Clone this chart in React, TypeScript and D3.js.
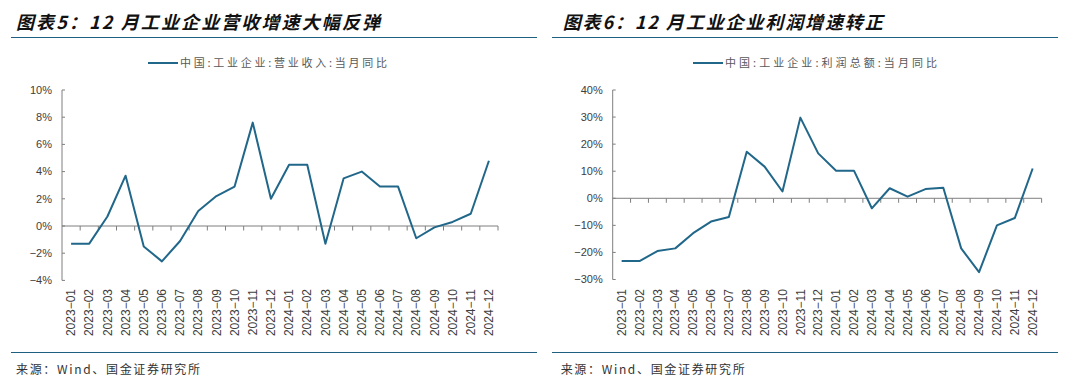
import React from "react";
import * as d3 from "d3";

const months = [
  "2023-01","2023-02","2023-03","2023-04","2023-05","2023-06","2023-07","2023-08","2023-09","2023-10","2023-11","2023-12",
  "2024-01","2024-02","2024-03","2024-04","2024-05","2024-06","2024-07","2024-08","2024-09","2024-10","2024-11","2024-12",
];
const revenueYoY = [-1.3,-1.3,0.7,3.7,-1.5,-2.6,-1.1,1.1,2.2,2.9,7.6,2.0,4.5,4.5,-1.3,3.5,4.0,2.9,2.9,-0.9,-0.1,0.3,0.9,4.8];
const profitYoY = [-23.2,-23.2,-19.5,-18.5,-12.9,-8.6,-6.9,17.2,11.7,2.5,29.8,16.6,10.2,10.2,-3.7,3.7,0.6,3.4,3.9,-18.5,-27.3,-10.0,-7.3,11.0];
const revenueTicks = [-4,-2,0,2,4,6,8,10];
const profitTicks = [-30,-20,-10,0,10,20,30,40];

const LINE = "#21678a";
const AXIS = "#7f7f7f";
const TXT = "#404040";
const CJK = "'Noto Sans CJK SC', sans-serif";
const LAT = "'Liberation Sans', Arial, sans-serif";

type PanelProps = {
  ox: number; title: string; titleLen: number; legend: string; legendX: number; legendLen: number;
  axisX: number; axisEnd: number; yTop: number; yBot: number; domain: [number, number];
  ticks: number[]; values: number[]; sourceX: number; ruleX1: number; ruleX2: number;
};

function Panel(p: PanelProps) {
  const x = d3.scaleBand<string>().domain(months).range([p.axisX, p.axisEnd]).paddingInner(0).paddingOuter(0);
  const y = d3.scaleLinear().domain(p.domain).range([p.yBot, p.yTop]);
  const line = d3.line<number>().x((_, i) => (x(months[i]) as number) + x.bandwidth() / 2).y((v) => y(v));
  const y0 = y(0);
  const fmt = (v: number) => (v < 0 ? "\u2212" + Math.abs(v) : String(v)) + "%";
  return (
    <g>
      <text x={p.ox} y={29} fontFamily={CJK} fontSize={18} fontWeight={700} fontStyle="italic" fill="#111"
        textLength={p.titleLen} lengthAdjust="spacing">{p.title}</text>
      <line x1={p.ruleX1} x2={p.ruleX2} y1={37.5} y2={37.5} stroke="#1f5f80" strokeWidth={1.2} />
      <line x1={p.legendX} x2={p.legendX + 30} y1={63} y2={63} stroke={LINE} strokeWidth={2} />
      <text x={p.legendX + 32} y={67} fontFamily={CJK} fontSize={11} fill="#595959"
        textLength={p.legendLen} lengthAdjust="spacing">{p.legend}</text>
      <line x1={p.axisX} x2={p.axisX} y1={p.yTop} y2={p.yBot} stroke={AXIS} strokeWidth={1} />
      {p.ticks.map((t) => (
        <g key={t}>
          <line x1={p.axisX} x2={p.axisX + 3} y1={y(t)} y2={y(t)} stroke={AXIS} />
          <text x={p.axisX - 10} y={y(t)} dy="0.35em" textAnchor="end" fontFamily={LAT} fontSize={11} fill={TXT}>{fmt(t)}</text>
        </g>
      ))}
      <line x1={p.axisX} x2={p.axisEnd} y1={y0} y2={y0} stroke={AXIS} strokeWidth={1} />
      {months.map((m) => (
        <line key={"t" + m} x1={(x(m) as number) + x.bandwidth()} x2={(x(m) as number) + x.bandwidth()} y1={y0} y2={y0 + 4.5} stroke={AXIS} />
      ))}
      {months.map((m) => {
        const cx = (x(m) as number) + x.bandwidth() / 2;
        return (
          <text key={m} transform={`translate(${cx},289) rotate(-90)`} dy="0.35em" textAnchor="end" fontFamily={LAT} fontSize={12} fill={TXT}>
            {m.replace("-", "\u2212")}
          </text>
        );
      })}
      <path d={line(p.values) || ""} fill="none" stroke={LINE} strokeWidth={2} strokeLinejoin="round" />
      <line x1={p.ruleX1} x2={p.ruleX2} y1={352.5} y2={352.5} stroke="#1f5f80" strokeWidth={1.2} />
      <text x={p.sourceX} y={374} fontFamily={CJK} fontSize={12} fill="#333" textLength={184} lengthAdjust="spacing">来源：Wind、国金证券研究所</text>
    </g>
  );
}

export default function App() {
  return (
    <svg width={1080} height={383} style={{ position: "absolute", left: 0, top: 0, background: "#fff" }}>
      <rect width={1080} height={383} fill="#fff" />
      <Panel ox={16} title="图表5：12 月工业企业营收增速大幅反弹" titleLen={364}
        legend="中国:工业企业:营业收入:当月同比" legendX={148} legendLen={207}
        axisX={62} axisEnd={498} yTop={90} yBot={280.4} domain={[-4, 10]} ticks={revenueTicks}
        values={revenueYoY} sourceX={16} ruleX1={11} ruleX2={537} />
      <Panel ox={562.7} title="图表6：12 月工业企业利润增速转正" titleLen={320}
        legend="中国:工业企业:利润总额:当月同比" legendX={693} legendLen={212}
        axisX={612.7} axisEnd={1041.6} yTop={90} yBot={279.5} domain={[-30, 40]} ticks={profitTicks}
        values={profitYoY} sourceX={560.7} ruleX1={552} ruleX2={1058} />
    </svg>
  );
}
